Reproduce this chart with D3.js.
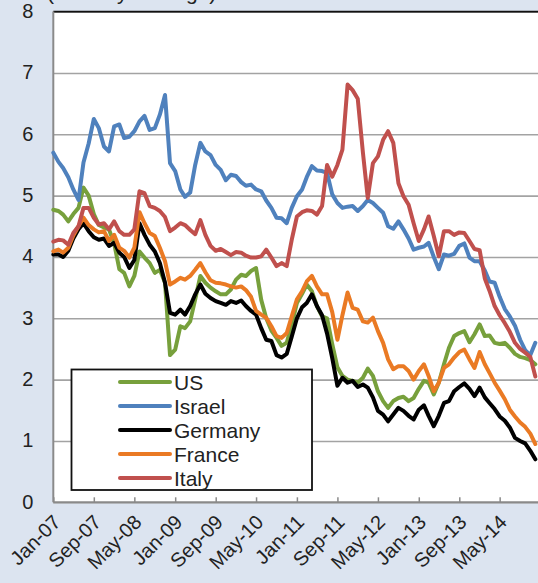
<!DOCTYPE html>
<html>
<head>
<meta charset="utf-8">
<script src="https://cdn.jsdelivr.net/npm/d3@7"></script>
<style>
  body { margin: 0; background: #dce4f0; }
  svg { display: block; font-family: Arial, "Liberation Sans", sans-serif; }
</style>
</head>
<body>
<div id="chart"></div>
<script>
// monthly 10-year yields, Jan-07 .. Dec-14
var usData = [4.77,4.75,4.69,4.58,4.70,4.80,5.13,5.00,4.70,4.52,4.48,4.45,4.22,3.80,3.74,3.52,3.69,
  4.09,3.99,3.90,3.74,3.79,3.58,2.40,2.49,2.87,2.84,2.95,3.31,3.69,3.58,3.50,3.44,3.39,3.39,3.47,3.63,3.71,3.69,3.77,3.82,3.30,3.00,2.80,2.68,2.55,2.60,2.90,3.25,3.40,3.55,
  3.44,3.20,3.03,3.00,2.58,2.20,2.06,2.00,1.98,1.95,2.03,2.18,2.06,1.81,1.65,1.54,1.65,1.70,1.72,1.65,1.70,1.85,1.98,1.95,1.76,1.95,2.25,2.52,2.71,2.76,2.79,2.61,2.74,2.90,
  2.71,2.72,2.60,2.58,2.60,2.52,2.42,2.37,2.35,2.32,2.25]
var israelData = [5.70,5.55,5.45,5.30,5.10,4.93,5.54,5.85,6.25,6.10,5.80,5.72,6.13,6.16,5.94,5.96,6.05,
  6.21,6.30,6.07,6.10,6.32,6.64,5.53,5.40,5.10,4.98,5.05,5.50,5.86,5.72,5.66,5.50,5.42,5.25,5.34,5.32,5.22,5.16,5.18,5.10,5.07,4.92,4.80,4.64,4.63,4.55,4.80,4.99,5.10,5.30,
  5.48,5.41,5.40,5.37,5.02,4.88,4.80,4.82,4.83,4.75,4.83,4.93,4.88,4.80,4.72,4.50,4.46,4.58,4.45,4.30,4.12,4.15,4.17,4.23,4.00,3.80,4.04,4.02,4.05,4.18,4.22,3.99,3.93,3.93,
  3.78,3.60,3.58,3.35,3.15,3.03,2.88,2.65,2.48,2.40,2.60]
var germanyData = [4.04,4.04,4.00,4.10,4.30,4.45,4.55,4.42,4.32,4.28,4.30,4.18,4.23,4.07,4.00,3.82,3.95,
  4.55,4.36,4.20,4.09,3.90,3.58,3.09,3.06,3.14,3.06,3.20,3.39,3.55,3.40,3.33,3.28,3.25,3.22,3.28,3.25,3.29,3.20,3.12,3.06,2.84,2.65,2.63,2.40,2.36,2.42,2.70,3.00,3.18,3.25,
  3.39,3.20,3.05,2.75,2.35,1.90,2.03,1.95,1.98,1.88,1.92,1.87,1.71,1.49,1.43,1.32,1.43,1.54,1.49,1.41,1.35,1.51,1.58,1.41,1.24,1.41,1.62,1.65,1.81,1.88,1.94,1.85,1.73,1.87,
  1.71,1.62,1.52,1.40,1.33,1.22,1.05,1.00,0.96,0.84,0.70]
var franceData = [4.09,4.12,4.07,4.15,4.35,4.50,4.64,4.52,4.45,4.40,4.42,4.26,4.36,4.15,4.10,3.99,4.15,
  4.73,4.55,4.39,4.34,4.15,3.93,3.55,3.60,3.66,3.63,3.69,3.79,3.90,3.75,3.62,3.58,3.57,3.55,3.52,3.50,3.52,3.46,3.35,3.12,3.06,3.01,2.87,2.71,2.68,2.76,3.03,3.31,3.44,3.60,
  3.69,3.52,3.39,3.39,3.10,2.65,3.05,3.42,3.17,3.14,2.95,2.93,3.01,2.79,2.60,2.33,2.17,2.22,2.22,2.14,2.00,2.14,2.25,2.06,1.81,1.95,2.19,2.25,2.36,2.45,2.49,2.33,2.19,2.45,
  2.25,2.11,1.95,1.82,1.68,1.51,1.40,1.30,1.23,1.12,0.95]
var italyData = [4.25,4.28,4.27,4.20,4.39,4.50,4.80,4.80,4.64,4.53,4.55,4.45,4.58,4.42,4.36,4.36,4.45,
  5.07,5.04,4.83,4.80,4.75,4.65,4.42,4.48,4.55,4.52,4.44,4.37,4.60,4.36,4.18,4.10,4.13,4.08,4.03,4.08,4.07,4.02,3.99,3.99,4.01,4.12,3.99,3.85,3.90,3.85,4.28,4.66,4.73,4.76,
  4.75,4.69,4.83,5.50,5.31,5.50,5.75,6.81,6.72,6.58,5.70,4.96,5.53,5.64,5.91,6.05,5.86,5.20,4.99,4.85,4.55,4.26,4.45,4.66,4.34,4.01,4.42,4.42,4.36,4.40,4.39,4.26,4.13,4.11,
  3.65,3.45,3.20,3.05,2.92,2.78,2.60,2.50,2.44,2.37,2.05]

var seriesNames = ['US', 'Israel', 'Germany', 'France', 'Italy']
var seriesColors = ['#77a03c', '#4f81bd', '#000000', '#ea7a24', '#c0504d']
var yTicks = [0, 1, 2, 3, 4, 5, 6, 7, 8]
var tickLabels = ['Jan-07','Sep-07','May-08','Jan-09','Sep-09','May-10','Jan-11','Sep-11','May-12','Jan-13','Sep-13','May-14']
var title = '(monthly average)'

var months = d3.timeMonth.range(new Date(2007, 0, 1), new Date(2015, 0, 1))
var parseLabel = d3.timeParse('%b-%y')

var margin = { top: 11.6, left: 53.3, right: 0, bottom: 80.7 }
var width = 538
var height = 583
var plotRight = 540.5

var svg = d3
  .select('#chart')
  .append('svg')
  .attr('width', width)
  .attr('height', height)

var xPositionScale = d3
  .scaleTime()
  .domain([new Date(2007, 0, 1), new Date(2015, 0, 1)])
  .range([margin.left, plotRight])

var yPositionScale = d3
  .scaleLinear()
  .domain([0, 8])
  .range([height - margin.bottom, margin.top])

// title, mostly cut off at the top (as in the source)
svg.append('text')
  .attr('x', 47)
  .attr('y', 0)
  .attr('font-size', 21)
  .attr('fill', '#222')
  .text(title)

// plot area
svg.append('rect')
  .attr('x', margin.left)
  .attr('y', margin.top)
  .attr('width', plotRight + 20 - margin.left)
  .attr('height', yPositionScale(0) - margin.top)
  .attr('fill', '#fff')

/* gridlines + y labels */
var yAxis = d3.axisLeft(yPositionScale)
  .tickValues(yTicks)
  .tickSize(-(width + 20 - margin.left))
  .tickPadding(20)
  .tickFormat(d3.format('d'))

var yG = svg.append('g')
  .attr('class', 'axis y-axis')
  .attr('transform', `translate(${margin.left},0)`)
  .call(yAxis)
yG.select('.domain').remove()
yG.selectAll('.tick line').attr('stroke', '#a3a3a3').attr('stroke-width', 1.6)
yG.selectAll('.tick text')
  .attr('font-size', 20)
  .attr('fill', '#222')
  .attr('dy', '0.3em')

// black top border
svg.append('line')
  .attr('x1', margin.left).attr('x2', width + 10)
  .attr('y1', margin.top).attr('y2', margin.top)
  .attr('stroke', '#111').attr('stroke-width', 1.6)

// left axis line
svg.append('line')
  .attr('x1', margin.left).attr('x2', margin.left)
  .attr('y1', margin.top).attr('y2', yPositionScale(0))
  .attr('stroke', '#8a8a8a').attr('stroke-width', 2)

/* series lines */
var allSeries = [usData, israelData, germanyData, franceData, italyData]

var line = d3.line()
  .x((d, i) => xPositionScale(months[i]))
  .y(d => yPositionScale(d))

svg.selectAll('.series')
  .data(allSeries)
  .enter()
  .append('path')
  .attr('class', 'series')
  .attr('d', d => line(d))
  .attr('fill', 'none')
  .attr('stroke', (d, i) => seriesColors[i])
  .attr('stroke-width', 4)
  .attr('stroke-linejoin', 'round')
  .attr('stroke-linecap', 'round')

/* x axis */
var xAxis = d3.axisBottom(xPositionScale)
  .tickValues(tickLabels.map(parseLabel))
  .tickSize(-5)
  .tickFormat(d3.timeFormat('%b-%y'))

var xG = svg.append('g')
  .attr('class', 'axis x-axis')
  .attr('transform', `translate(0,${yPositionScale(0)})`)
  .call(xAxis)
xG.select('.domain')
  .attr('d', `M${margin.left},0H${width + 10}`)
  .attr('stroke', '#8a8a8a')
  .attr('stroke-width', 2)
xG.selectAll('.tick line').attr('stroke', '#8a8a8a').attr('stroke-width', 1.5)
xG.selectAll('.tick text')
  .attr('font-size', 20)
  .attr('fill', '#222')
  .attr('text-anchor', 'end')
  .attr('y', 0)
  .attr('dy', 0)
  .attr('transform', 'translate(8,21) rotate(-45)')

/* legend */
var legend = svg.append('g').attr('class', 'legend')
legend.append('rect')
  .attr('x', 71.5)
  .attr('y', 369.5)
  .attr('width', 240.5)
  .attr('height', 120.5)
  .attr('fill', '#fff')
  .attr('stroke', '#111')
  .attr('stroke-width', 1.8)

legend.selectAll('g.entry')
  .data(seriesNames)
  .enter()
  .append('g')
  .attr('class', 'entry')
  .attr('transform', (d, i) => `translate(120,${382 + i * 24})`)
  .each(function(d, i) {
    let g = d3.select(this)
    g.append('line')
      .attr('x1', 0).attr('x2', 50)
      .attr('stroke', seriesColors[i])
      .attr('stroke-width', 4)
      .attr('stroke-linecap', 'round')
    g.append('text')
      .attr('x', 54)
      .attr('dy', '0.36em')
      .attr('font-size', 21)
      .attr('fill', '#222')
      .text(d)
  })
</script>
</body>
</html>
